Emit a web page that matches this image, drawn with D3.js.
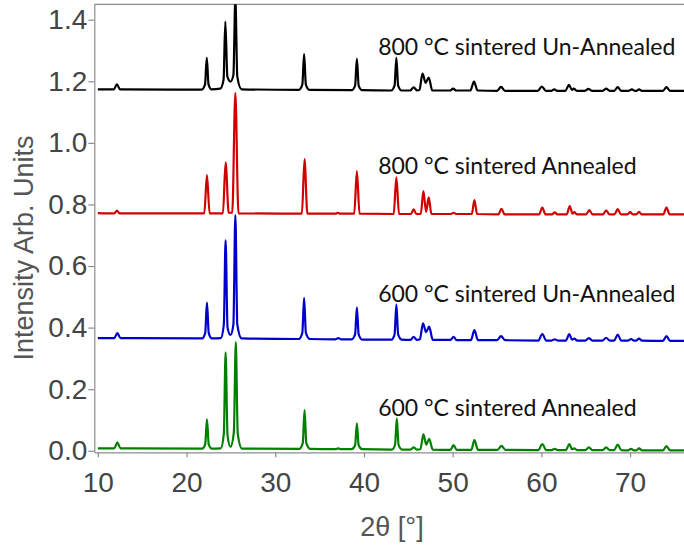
<!DOCTYPE html>
<html>
<head>
<meta charset="utf-8">
<script src="https://cdn.jsdelivr.net/npm/d3@7"></script>
<style>
  body { margin: 0; background: #fff; }
  svg { display: block; }
</style>
</head>
<body>
<div id="chart"></div>
<script>
const width = 684;
const height = 551;

// plot box, in px
const plotLeft = 94.3, plotRight = 686, plotTop = 4.3, plotBottom = 452.3;

const xTicks = [10, 20, 30, 40, 50, 60, 70];
const yTicks = [0.0, 0.2, 0.4, 0.6, 0.8, 1.0, 1.2, 1.4];

const labels = [
  "800 °C sintered Un-Annealed",
  "800 °C sintered Annealed",
  "600 °C sintered Un-Annealed",
  "600 °C sintered Annealed"
];
const colors = ["#000000", "#d20000", "#0000cc", "#008000"];

// [2theta, intensity] vertices
const black800 = [
  [10, 1.174], [11.8, 1.174], [12.15, 1.19], [12.5, 1.174],
  [21.7, 1.173], [22.08, 1.189], [22.28, 1.277], [22.48, 1.189], [22.8, 1.174],
  [23.8, 1.176], [24.17, 1.205], [24.37, 1.394], [24.6, 1.215], [24.95, 1.199], [25.28, 1.22], [25.5, 1.47],
  [25.72, 1.215], [26.2, 1.174],
  [32.65, 1.172], [33.05, 1.189], [33.25, 1.288], [33.45, 1.189], [33.85, 1.172],
  [38.6, 1.171], [39.0, 1.186], [39.2, 1.274], [39.4, 1.186], [39.8, 1.171],
  [43.05, 1.17], [43.45, 1.186], [43.65, 1.277], [43.85, 1.186], [44.25, 1.17],
  [45.2, 1.17], [45.6, 1.18], [46.0, 1.17], [46.25, 1.172], [46.6, 1.225], [46.95, 1.195], [47.3, 1.212],
  [47.7, 1.17], [49.7, 1.17], [50.05, 1.176], [50.4, 1.17], [52.0, 1.17], [52.4, 1.199], [52.8, 1.17],
  [55.0, 1.169], [55.45, 1.182], [55.9, 1.169], [59.6, 1.169], [60.05, 1.183], [60.5, 1.169], [61.1, 1.169],
  [61.45, 1.174], [61.8, 1.169], [62.7, 1.169], [63.1, 1.188], [63.45, 1.172], [63.65, 1.176], [64.0, 1.169],
  [64.9, 1.169], [65.3, 1.175], [65.7, 1.169], [66.9, 1.169], [67.3, 1.176], [67.7, 1.169], [68.2, 1.169],
  [68.6, 1.181], [69.0, 1.169], [69.8, 1.169], [70.2, 1.174], [70.55, 1.169], [70.7, 1.169], [71.0, 1.174],
  [71.35, 1.169], [73.7, 1.169], [74.1, 1.181], [74.5, 1.169], [76.5, 1.169]
];
const red800 = [
  [10, 0.772], [11.85, 0.771], [12.15, 0.78], [12.45, 0.771], [22.0, 0.771], [22.3, 0.895], [22.6, 0.771],
  [24.1, 0.771], [24.4, 0.937], [24.75, 0.773], [25.15, 0.773], [25.5, 1.162], [25.85, 0.771], [33.0, 0.77],
  [33.3, 0.947], [33.62, 0.77], [36.8, 0.77], [37.05, 0.773], [37.3, 0.77], [38.9, 0.77], [39.2, 0.908],
  [39.5, 0.77], [43.35, 0.769], [43.65, 0.888], [43.95, 0.769], [45.3, 0.769], [45.6, 0.784], [45.9, 0.769],
  [46.4, 0.769], [46.7, 0.843], [47.0, 0.776], [47.3, 0.823], [47.6, 0.769], [49.8, 0.769], [50.1, 0.773],
  [50.4, 0.769], [52.15, 0.769], [52.45, 0.814], [52.75, 0.769], [55.15, 0.768], [55.5, 0.786], [55.85, 0.768],
  [59.75, 0.768], [60.1, 0.79], [60.45, 0.768], [61.2, 0.768], [61.5, 0.774], [61.8, 0.768], [62.85, 0.768],
  [63.2, 0.795], [63.5, 0.77], [63.7, 0.775], [64.0, 0.768], [65.05, 0.768], [65.4, 0.782], [65.75, 0.768],
  [66.95, 0.768], [67.3, 0.781], [67.65, 0.768], [68.25, 0.768], [68.6, 0.785], [68.95, 0.768], [69.7, 0.768],
  [70.0, 0.775], [70.3, 0.768], [70.7, 0.768], [71.0, 0.776], [71.3, 0.768], [73.75, 0.768], [74.1, 0.79],
  [74.45, 0.768], [76.5, 0.768]
];
const blue600 = [
  [10, 0.366], [11.85, 0.366], [12.2, 0.382], [12.55, 0.366],
  [21.75, 0.365], [22.1, 0.382], [22.3, 0.481], [22.5, 0.382], [22.85, 0.365],
  [23.85, 0.366], [24.2, 0.41], [24.4, 0.684], [24.62, 0.40], [24.95, 0.376], [25.28, 0.41], [25.5, 0.765],
  [25.72, 0.41], [26.2, 0.365],
  [32.65, 0.363], [33.05, 0.383], [33.25, 0.497], [33.45, 0.383], [33.9, 0.363],
  [36.8, 0.362], [37.1, 0.366], [37.4, 0.362],
  [38.6, 0.362], [39.0, 0.378], [39.2, 0.466], [39.4, 0.378], [39.8, 0.361],
  [43.1, 0.361], [43.45, 0.378], [43.65, 0.475], [43.85, 0.378], [44.25, 0.361],
  [45.25, 0.36], [45.6, 0.37], [45.95, 0.36], [46.3, 0.362],
  [46.65, 0.414], [47.0, 0.385], [47.35, 0.403], [47.75, 0.36], [49.75, 0.36], [50.1, 0.37], [50.45, 0.359],
  [52.05, 0.359], [52.45, 0.392], [52.85, 0.359], [55.0, 0.359], [55.45, 0.372], [55.9, 0.359], [59.65, 0.358],
  [60.1, 0.379], [60.55, 0.358], [61.15, 0.358], [61.5, 0.362], [61.85, 0.358], [62.75, 0.358], [63.15, 0.379],
  [63.45, 0.361], [63.7, 0.364], [64.05, 0.358], [64.95, 0.358], [65.35, 0.366], [65.75, 0.358], [66.9, 0.358],
  [67.3, 0.367], [67.7, 0.358], [68.2, 0.358], [68.6, 0.377], [69.0, 0.358], [69.75, 0.358], [70.1, 0.363],
  [70.45, 0.358], [70.7, 0.358], [71.0, 0.364], [71.35, 0.358], [73.7, 0.357], [74.1, 0.372], [74.5, 0.357],
  [76.5, 0.357]
];
const green600 = [
  [10, 0.008], [11.85, 0.008], [12.2, 0.027], [12.55, 0.008],
  [21.75, 0.007], [22.1, 0.021], [22.3, 0.102], [22.5, 0.021], [22.85, 0.007],
  [23.85, 0.008], [24.2, 0.055], [24.4, 0.32], [24.62, 0.05], [24.95, 0.013], [25.33, 0.06], [25.55, 0.353],
  [25.77, 0.055], [26.25, 0.007],
  [32.7, 0.006], [33.1, 0.025], [33.3, 0.132], [33.5, 0.025], [33.95, 0.006],
  [36.8, 0.005], [37.1, 0.008], [37.4, 0.005],
  [38.6, 0.005], [39.0, 0.018], [39.2, 0.089], [39.4, 0.018], [39.8, 0.005],
  [43.15, 0.004], [43.5, 0.019], [43.7, 0.105], [43.9, 0.019], [44.3, 0.004],
  [45.25, 0.004], [45.6, 0.011], [45.95, 0.004], [46.35, 0.005],
  [46.7, 0.053], [47.02, 0.02], [47.35, 0.039], [47.75, 0.004], [49.75, 0.003], [50.1, 0.018], [50.45, 0.003],
  [52.1, 0.003], [52.45, 0.035], [52.85, 0.003], [55.05, 0.003], [55.5, 0.016], [55.95, 0.003], [59.65, 0.002],
  [60.1, 0.022], [60.55, 0.002], [61.15, 0.002], [61.5, 0.006], [61.85, 0.002], [62.75, 0.002], [63.15, 0.022],
  [63.45, 0.005], [63.7, 0.008], [64.05, 0.002], [64.95, 0.002], [65.35, 0.011], [65.75, 0.002], [66.9, 0.002],
  [67.3, 0.011], [67.7, 0.002], [68.2, 0.002], [68.6, 0.02], [69.0, 0.002], [69.75, 0.001], [70.1, 0.006],
  [70.45, 0.001], [70.7, 0.001], [71.0, 0.008], [71.35, 0.001], [73.7, 0.001], [74.1, 0.015], [74.5, 0.001],
  [76.5, 0.001]
];
const series = [black800, red800, blue600, green600];

// where each label sits (2theta, intensity at its baseline)
const labelX = [41.6, 41.6, 41.6, 41.6];
const labelY = [1.286, 0.9, 0.483, 0.112];

const x = d3.scaleLinear().domain([9.6, 76.3]).range([plotLeft, plotRight]);
const y = d3.scaleLinear().domain([-0.005, 1.45]).range([plotBottom, plotTop]);

const svg = d3.select("#chart").append("svg")
  .attr("width", width)
  .attr("height", height);

svg.append("rect").attr("width", width).attr("height", height).attr("fill", "#fff");

svg.append("clipPath").attr("id", "plotclip")
  .append("rect")
  .attr("x", plotLeft).attr("y", plotTop)
  .attr("width", plotRight - plotLeft).attr("height", plotBottom - plotTop);

// frame top line
svg.append("line")
  .attr("x1", plotLeft).attr("x2", plotRight)
  .attr("y1", plotTop).attr("y2", plotTop)
  .attr("stroke", "#8c8c8c").attr("stroke-width", 1.2);

const line = d3.line()
  .x(d => x(d[0]))
  .y(d => y(d[1]))
  .curve(d3.curveMonotoneX);

svg.append("g").attr("clip-path", "url(#plotclip)")
  .selectAll("path")
  .data(series)
  .enter()
  .append("path")
  .attr("d", line)
  .attr("fill", "none")
  .attr("stroke", (d, i) => colors[i])
  .attr("stroke-width", 2.2)
  .attr("stroke-linejoin", "round");

// axes
const xAxis = svg.append("g")
  .attr("transform", "translate(0," + plotBottom + ")")
  .call(d3.axisBottom(x).tickValues(xTicks).tickSize(5).tickSizeOuter(0).tickPadding(15));

const yAxis = svg.append("g")
  .attr("transform", "translate(" + plotLeft + ",0)")
  .call(d3.axisLeft(y).tickValues(yTicks).tickFormat(d3.format(".1f")).tickSize(6).tickSizeOuter(0).tickPadding(1));

[xAxis, yAxis].forEach(function(g) {
  g.select(".domain").attr("stroke", "#8c8c8c").attr("stroke-width", 1.2);
  g.selectAll(".tick line").attr("stroke", "#8c8c8c").attr("stroke-width", 1.2);
  g.selectAll(".tick text")
    .attr("fill", "#444")
    .attr("font-family", "'Liberation Sans', Arial, sans-serif")
    .attr("font-size", "28px");
});

svg.append("text")
  .attr("transform", "translate(33,248) rotate(-90)")
  .attr("text-anchor", "middle")
  .attr("font-family", "'Liberation Sans', Arial, sans-serif")
  .attr("font-size", "27px")
  .attr("fill", "#555")
  .text("Intensity Arb. Units");

svg.append("text")
  .attr("x", 392).attr("y", 536)
  .attr("text-anchor", "middle")
  .attr("font-family", "'Liberation Sans', Arial, sans-serif")
  .attr("font-size", "27px")
  .attr("fill", "#555")
  .text("2θ [°]");

// series labels
svg.append("g").selectAll("text")
  .data(labels)
  .enter()
  .append("text")
  .attr("x", (d, i) => x(labelX[i]))
  .attr("y", (d, i) => y(labelY[i]))
  .attr("font-family", "Lato, sans-serif")
  .attr("font-size", "23px")
  .attr("fill", "#111")
  .text(d => d);
</script>
</body>
</html>
